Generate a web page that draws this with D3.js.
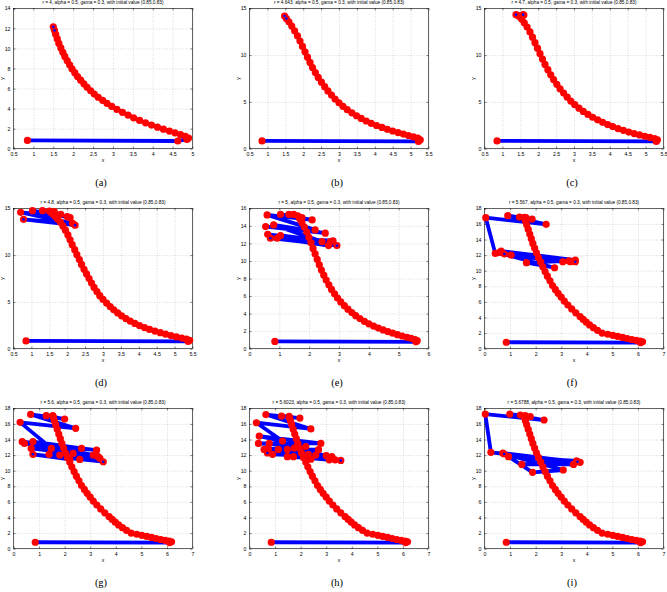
<!DOCTYPE html>
<html>
<head>
<meta charset="utf-8">
<script src="https://cdn.jsdelivr.net/npm/d3@7"></script>
<style>
  body { margin: 0; background: #fff; }
  svg { display: block; }
  .tick text { font-family: "Liberation Sans", Arial, sans-serif; font-size: 5.2px; fill: #000; }
  .grid line { stroke: #b5b5b5; stroke-width: 0.5; stroke-dasharray: 1,1.6; }
  .grid .domain { display: none; }
  .ax line { stroke: #000; stroke-width: 0.5; }
  .ax .domain { display: none; }
</style>
</head>
<body>
<div id="chart"></div>
<script>
// ---- values ----
const rValues = ['4', '4.643', '4.7', '4.8', '5', '5.567', '5.6', '5.6023', '5.6788'];
const panelLabels = ['(a)', '(b)', '(c)', '(d)', '(e)', '(f)', '(g)', '(h)', '(i)'];

const xTicks05to5 = [0.5, 1, 1.5, 2, 2.5, 3, 3.5, 4, 4.5, 5];
const xTicks05to55 = [0.5, 1, 1.5, 2, 2.5, 3, 3.5, 4, 4.5, 5, 5.5];
const xTicks0to6 = [0, 1, 2, 3, 4, 5, 6];
const xTicks0to7 = [0, 1, 2, 3, 4, 5, 6, 7];
const yTicks14 = [0, 2, 4, 6, 8, 10, 12, 14];
const yTicks15 = [0, 5, 10, 15];
const yTicks16 = [0, 2, 4, 6, 8, 10, 12, 14, 16];
const yTicks18 = [0, 2, 4, 6, 8, 10, 12, 14, 16, 18];

const startPoint = [0.85, 0.83];

const trajA = [[4.63,0.77],[4.86,0.92],[4.9,1.06],[4.82,1.22],[4.7,1.4],[4.56,1.58],[4.42,1.76],[4.27,1.95],[4.12,2.15],[3.97,2.36],[3.82,2.58],[3.67,2.82],[3.52,3.08],[3.38,3.35],[3.24,3.63],[3.1,3.92],[2.97,4.22],[2.85,4.52],[2.74,4.82],[2.63,5.13],[2.53,5.45],[2.44,5.78],[2.35,6.12],[2.27,6.47],[2.19,6.83],[2.11,7.2],[2.04,7.58],[1.97,7.97],[1.91,8.37],[1.85,8.78],[1.79,9.2],[1.74,9.62],[1.69,10.05],[1.64,10.5],[1.6,10.95],[1.56,11.4],[1.53,11.8],[1.5,12.15]];

const trajB = [[5.22,0.78],[5.27,0.95],[5.2,1.12],[5.08,1.26],[4.94,1.41],[4.8,1.56],[4.65,1.72],[4.5,1.89],[4.35,2.07],[4.2,2.27],[4.05,2.48],[3.9,2.71],[3.76,2.96],[3.62,3.23],[3.49,3.52],[3.36,3.83],[3.23,4.17],[3.11,4.53],[3.0,4.91],[2.89,5.31],[2.79,5.73],[2.69,6.17],[2.6,6.63],[2.51,7.11],[2.42,7.61],[2.34,8.13],[2.26,8.67],[2.19,9.22],[2.12,9.78],[2.05,10.35],[1.98,10.93],[1.91,11.5],[1.84,12.06],[1.76,12.6],[1.68,13.1],[1.6,13.55],[1.53,13.9],[1.48,14.18]];

const trajC = [[5.3,0.78],[5.33,0.95],[5.25,1.08],[5.12,1.2],[4.98,1.33],[4.83,1.47],[4.68,1.62],[4.53,1.78],[4.38,1.96],[4.23,2.15],[4.08,2.36],[3.94,2.58],[3.8,2.82],[3.66,3.08],[3.52,3.36],[3.39,3.66],[3.26,3.98],[3.14,4.33],[3.02,4.7],[2.91,5.09],[2.81,5.5],[2.71,5.94],[2.61,6.4],[2.52,6.88],[2.43,7.38],[2.35,7.9],[2.27,8.44],[2.19,9.0],[2.12,9.57],[2.05,10.15],[1.98,10.74],[1.91,11.33],[1.84,11.92],[1.77,12.48],[1.69,13.0],[1.61,13.45],[1.54,13.82],[1.48,14.1],[1.43,14.25],[1.6,14.28],[1.38,14.32],[1.58,14.32]];

const trajD = [[5.38,0.78],[5.42,0.9],[5.33,1.02],[5.2,1.13],[5.05,1.26],[4.9,1.4],[4.75,1.55],[4.6,1.71],[4.45,1.88],[4.3,2.06],[4.16,2.26],[4.02,2.47],[3.89,2.7],[3.76,2.95],[3.64,3.22],[3.52,3.51],[3.41,3.82],[3.3,4.15],[3.2,4.5],[3.1,4.87],[3.0,5.26],[2.91,5.67],[2.83,6.1],[2.75,6.55],[2.68,7.02],[2.61,7.5],[2.54,7.99],[2.47,8.49],[2.4,9.0],[2.34,9.52],[2.27,10.05],[2.21,10.58],[2.14,11.11],[2.08,11.64],[2.02,12.16],[1.95,12.66],[1.88,13.12],[1.81,13.52],[1.73,13.87],[1.66,14.16],[1.6,14.4],[1.55,14.55],
  [1.64,14.64],[1.5,14.71],[1.82,14.36],[1.31,14.75],[2.08,14.0],[1.03,14.75],[2.0,14.1],[0.7,14.57],[2.15,13.4],[0.78,13.82],[2.22,13.2]];

const trajE = [[5.58,0.78],[5.62,0.92],[5.55,1.05],[5.42,1.18],[5.28,1.3],[5.12,1.45],[4.96,1.6],[4.8,1.77],[4.64,1.95],[4.48,2.14],[4.32,2.35],[4.16,2.58],[4.0,2.84],[3.85,3.12],[3.7,3.43],[3.56,3.76],[3.43,4.12],[3.3,4.5],[3.18,4.9],[3.06,5.33],[2.95,5.78],[2.85,6.26],[2.75,6.76],[2.66,7.28],[2.57,7.82],[2.49,8.38],[2.41,8.96],[2.34,9.56],[2.27,10.17],[2.2,10.8],[2.13,11.43],[2.06,12.07],[1.99,12.7],[1.92,13.3],[1.84,13.86],[1.76,14.36],[1.68,14.8],[1.62,15.15],
  [1.48,15.3],[1.32,15.3],[1.76,14.94],[1.04,15.3],[2.1,14.68],[0.59,15.25],[2.2,13.54],[0.54,13.92],[2.54,13.16],[0.81,14.1],[2.43,12.2],[0.61,13.04],[2.71,12.2],[1.04,12.9],[2.65,11.75],[0.93,12.59],[2.8,12.3],[0.7,12.59],[2.93,11.75]];

// curve climbed for r around 5.6 (panels f to i look the same there)
const curveR56 = [[6.1,0.78],[6.18,0.88],[6.08,0.97],[5.93,1.07],[5.76,1.18],[5.58,1.31],[5.4,1.44],[5.21,1.57],[5.02,1.71],[4.82,1.85],[4.6,2.0],[4.42,2.35],[4.26,2.7],[4.11,3.05],[3.98,3.4],[3.86,3.75],[3.74,4.1],[3.57,4.6],[3.41,5.1],[3.26,5.6],[3.12,6.1],[3.0,6.6],[2.88,7.1],[2.77,7.6],[2.66,8.1],[2.56,8.7],[2.46,9.3],[2.37,9.9],[2.28,10.5],[2.2,11.1],[2.11,11.7],[2.03,12.3],[1.96,12.9],[1.89,13.5],[1.83,14.1],[1.77,14.7],[1.71,15.3],[1.65,15.9],[1.6,16.4],[1.56,16.85]];

const chaosF = [[1.62,16.8],[1.37,16.88],[1.86,16.62],[0.91,17.05],[2.41,15.94],[0.05,16.8],[0.42,12.22],[3.55,11.37],[0.65,12.52],[3.36,11.15],[1.04,12.0],[3.06,11.15],[0.55,12.3],[2.74,10.38],[1.64,11.03],[3.3,11.25],[0.78,12.14],[3.55,11.15]];

const chaosG = [[1.54,17.05],[1.28,17.05],[2.0,16.62],[0.67,17.22],[2.43,15.43],[0.26,16.2],[1.81,12.0],[0.34,13.72],[3.25,12.65],[0.43,13.5],[3.12,12.0],[0.76,13.72],[2.66,12.86],[0.69,12.86],[3.31,11.8],[1.48,12.86],[2.59,11.45],[1.39,12.1],[3.38,11.58],[2.33,12.22],[2.2,11.45],[0.76,12.1],[3.51,11.15]];

const chaosH = [[1.55,16.97],[1.25,17.0],[1.97,16.75],[0.64,17.2],[2.4,15.35],[0.27,16.15],[1.29,13.8],[0.38,14.44],[2.79,13.5],[0.35,13.5],[2.2,13.1],[0.77,13.5],[3.0,11.95],[0.57,12.73],[2.7,12.7],[0.74,12.8],[3.22,11.8],[0.9,12.1],[2.59,12.0],[1.13,12.73],[3.35,11.4],[1.48,11.8],[2.3,12.1],[1.48,12.73],[3.12,11.4],[1.72,11.8],[2.4,11.47],[1.75,12.9],[0.7,12.27],[3.57,11.32]];

const chaosI = [[1.59,17.05],[1.4,17.14],[1.79,16.92],[0.99,17.26],[2.33,16.5],[0.03,17.26],[0.25,12.35],[3.74,11.07],[0.72,12.25],[3.48,10.81],[1.46,10.81],[3.6,11.25],[0.94,11.8],[1.88,9.79],[3.08,10.09],[0.77,12.14],[3.64,11.15]];

// ---- layout ----
const outerW = 667, outerH = 592;
const W = 179, H = 140.4;
const colX = [13.5, 249.5, 484.5];
const rowY = [8.3, 208.3, 408.3];

const panels = [
	{ xDom: [0.5, 5], xTicks: xTicks05to5, yDom: [0, 14], yTicks: yTicks14, traj: [startPoint, ...trajA] },
	{ xDom: [0.5, 5.5], xTicks: xTicks05to55, yDom: [0, 15], yTicks: yTicks15, traj: [startPoint, ...trajB] },
	{ xDom: [0.5, 5.5], xTicks: xTicks05to55, yDom: [0, 15], yTicks: yTicks15, traj: [startPoint, ...trajC] },
	{ xDom: [0.5, 5.5], xTicks: xTicks05to55, yDom: [0, 15], yTicks: yTicks15, traj: [startPoint, ...trajD] },
	{ xDom: [0, 6], xTicks: xTicks0to6, yDom: [0, 16], yTicks: yTicks16, traj: [startPoint, ...trajE] },
	{ xDom: [0, 7], xTicks: xTicks0to7, yDom: [0, 18], yTicks: yTicks18, traj: [startPoint, ...curveR56, ...chaosF] },
	{ xDom: [0, 7], xTicks: xTicks0to7, yDom: [0, 18], yTicks: yTicks18, traj: [startPoint, ...curveR56, ...chaosG] },
	{ xDom: [0, 7], xTicks: xTicks0to7, yDom: [0, 18], yTicks: yTicks18, traj: [startPoint, ...curveR56, ...chaosH] },
	{ xDom: [0, 7], xTicks: xTicks0to7, yDom: [0, 18], yTicks: yTicks18, traj: [startPoint, ...curveR56, ...chaosI] }
];

const svg = d3.select('#chart').append('svg')
	.attr('width', outerW)
	.attr('height', outerH);

svg.append('rect').attr('width', outerW).attr('height', outerH).attr('fill', '#fff');

const fmt = d3.format('~g');

panels.forEach((p, i) => {
	const g = svg.append('g')
		.attr('transform', `translate(${colX[i % 3]}, ${rowY[Math.floor(i / 3)]})`);

	const x = d3.scaleLinear().domain(p.xDom).range([0, W]);
	const y = d3.scaleLinear().domain(p.yDom).range([H, 0]);

	// dotted grid
	g.append('g').attr('class', 'grid')
		.call(d3.axisBottom(x).tickValues(p.xTicks).tickSize(H).tickFormat(''));
	g.append('g').attr('class', 'grid')
		.call(d3.axisRight(y).tickValues(p.yTicks).tickSize(W).tickFormat(''));

	// ticks on all four sides, pointing in
	g.append('g').attr('class', 'ax')
		.attr('transform', `translate(0, ${H})`)
		.call(d3.axisBottom(x).tickValues(p.xTicks).tickFormat(fmt)
			.tickSizeInner(-2).tickSizeOuter(0).tickPadding(3.3));
	g.append('g').attr('class', 'ax')
		.call(d3.axisTop(x).tickValues(p.xTicks).tickFormat('')
			.tickSizeInner(-2).tickSizeOuter(0));
	g.append('g').attr('class', 'ax')
		.call(d3.axisLeft(y).tickValues(p.yTicks).tickFormat(fmt)
			.tickSizeInner(-2).tickSizeOuter(0).tickPadding(3));
	g.append('g').attr('class', 'ax')
		.attr('transform', `translate(${W}, 0)`)
		.call(d3.axisRight(y).tickValues(p.yTicks).tickFormat('')
			.tickSizeInner(-2).tickSizeOuter(0));

	g.append('rect')
		.attr('width', W).attr('height', H)
		.attr('fill', 'none').attr('stroke', '#000').attr('stroke-width', 0.6);

	// trajectory: blue line, red markers, blue dots on the last two iterates
	const line = d3.line().x(d => x(d[0])).y(d => y(d[1]));
	g.append('path')
		.datum(p.traj)
		.attr('d', line)
		.attr('fill', 'none')
		.attr('stroke', '#0000ff')
		.attr('stroke-width', 3.8)
		.attr('stroke-linejoin', 'round')
		.attr('stroke-linecap', 'round');

	g.selectAll('.dot')
		.data(p.traj)
		.enter().append('circle')
		.attr('class', 'dot')
		.attr('cx', d => x(d[0]))
		.attr('cy', d => y(d[1]))
		.attr('r', 3.6)
		.attr('fill', '#ff0000');

	g.selectAll('.last')
		.data(p.traj.slice(-2))
		.enter().append('circle')
		.attr('class', 'last')
		.attr('cx', d => x(d[0]))
		.attr('cy', d => y(d[1]))
		.attr('r', 1.3)
		.attr('fill', '#0000ff');

	// texts
	g.append('text')
		.attr('x', W / 2).attr('y', -4)
		.attr('text-anchor', 'middle')
		.style('font-family', '"Liberation Sans", Arial, sans-serif')
		.style('font-size', '4.7px')
		.text(`r = ${rValues[i]}, alpha = 0.5, gama = 0.3, with initial value (0.85,0.83)`);

	g.append('text')
		.attr('x', W / 2).attr('y', H + 13)
		.attr('text-anchor', 'middle')
		.style('font-family', '"Liberation Sans", Arial, sans-serif')
		.style('font-size', '5.2px')
		.text('x');

	g.append('text')
		.attr('transform', `translate(-9.5, ${H / 2}) rotate(-90)`)
		.attr('text-anchor', 'middle')
		.style('font-family', '"Liberation Sans", Arial, sans-serif')
		.style('font-size', '5.2px')
		.text('y');

	g.append('text')
		.attr('x', W / 2 - 2).attr('y', H + 37.5)
		.attr('text-anchor', 'middle')
		.style('font-family', '"Liberation Serif", "Times New Roman", serif')
		.style('font-size', '10.5px')
		.text(panelLabels[i]);
});
</script>
</body>
</html>
